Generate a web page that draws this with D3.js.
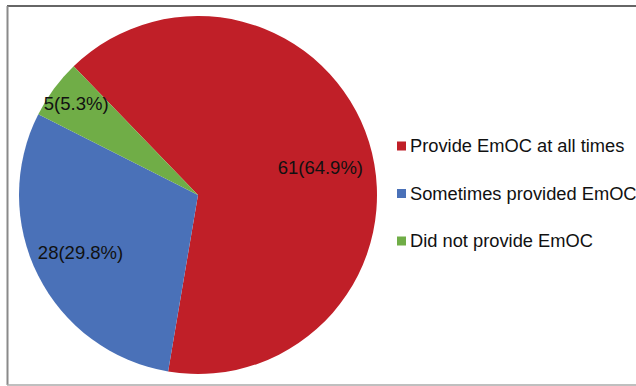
<!DOCTYPE html>
<html>
<head>
<meta charset="utf-8">
<script src="https://cdn.jsdelivr.net/npm/d3@7"></script>
<style>
  html, body { margin: 0; padding: 0; background: #fff; }
  svg { display: block; }
  text { font-family: "Liberation Sans", Arial, sans-serif; }
</style>
</head>
<body>
<script>
// Emergency obstetric care provision among facilities
const categories = ["Provide EmOC at all times", "Sometimes provided EmOC", "Did not provide EmOC"];
const counts = [61, 28, 5];
const percents = ["64.9%", "29.8%", "5.3%"];
const colors = ["#C01F28", "#4A71B8", "#70AD47"];

const W = 636, H = 386;
const svg = d3.select("body").append("svg").attr("width", W).attr("height", H);

// chart frame
svg.append("line").attr("x1", 7).attr("x2", W).attr("y1", 6).attr("y2", 6)
  .attr("stroke", "#333").attr("stroke-width", 1.5);
svg.append("line").attr("x1", 7.5).attr("x2", 7.5).attr("y1", 6).attr("y2", 385)
  .attr("stroke", "#8a8a8a").attr("stroke-width", 2);
svg.append("line").attr("x1", 7).attr("x2", W).attr("y1", 385).attr("y2", 385)
  .attr("stroke", "#aaa").attr("stroke-width", 1.5);

const cx = 198, cy = 195, r = 179;
const start = -44 * Math.PI / 180;

const pie = d3.pie().sort(null)
  .startAngle(start).endAngle(start + 2 * Math.PI);
const arcs = pie(counts);
const arc = d3.arc().innerRadius(0).outerRadius(r);

const g = svg.append("g").attr("transform", `translate(${cx},${cy})`);
g.selectAll("path").data(arcs).join("path")
  .attr("d", arc)
  .attr("fill", (d, i) => colors[i]);

// value labels: radius fraction and angular nudge (degrees) from each slice's mid-angle
const labelRadius = [0.70, 0.73, 0.85];
const labelNudge = [4.7, 0.8, 0.4];
g.selectAll("text.val").data(arcs).join("text")
  .attr("class", "val")
  .attr("transform", (d, i) => {
    const a = (d.startAngle + d.endAngle) / 2 + labelNudge[i] * Math.PI / 180;
    const rr = r * labelRadius[i];
    return `translate(${Math.sin(a) * rr},${-Math.cos(a) * rr})`;
  })
  .attr("text-anchor", "middle")
  .attr("dy", "0.35em")
  .attr("font-size", 18.5)
  .attr("fill", "#111")
  .text((d, i) => `${counts[i]}(${percents[i]})`);

// legend
const legendY = d3.scalePoint().domain(categories).range([146, 241]);
const lg = svg.append("g");
const rows = lg.selectAll("g").data(categories).join("g")
  .attr("transform", d => `translate(397,${legendY(d)})`);
rows.append("rect").attr("x", 0).attr("y", -4.5).attr("width", 9).attr("height", 9)
  .attr("fill", (d, i) => colors[i]);
rows.append("text").attr("x", 13).attr("dy", "0.35em")
  .attr("font-size", 18.3).attr("fill", "#111")
  .text(d => d);
</script>
</body>
</html>
